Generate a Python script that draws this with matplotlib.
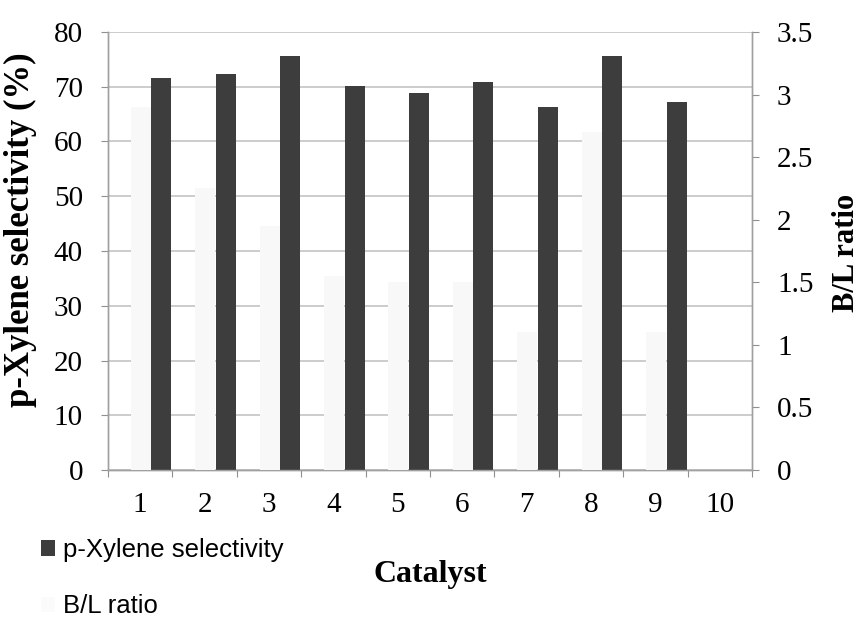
import numpy as np
import matplotlib
matplotlib.use('Agg')
import matplotlib.pyplot as plt
from matplotlib.patches import Patch

catalysts = [1, 2, 3, 4, 5, 6, 7, 8, 9, 10]
selectivity = [71.6, 72.3, 75.6, 70.1, 68.9, 70.9, 66.3, 75.6, 67.2, 0]
bl_ratio = [2.9, 2.25, 1.95, 1.55, 1.5, 1.5, 1.1, 2.7, 1.1, 0]

dark = '#3d3d3d'
faint = '#f8f8f8'
grid_c = '#c4c4c4'
serif = ['Liberation Serif', 'DejaVu Serif']
sans = ['Liberation Sans', 'DejaVu Sans']

fig = plt.figure(figsize=(8.61, 6.36), dpi=100)
ax = fig.add_axes([0.1254, 0.261, 0.748, 0.6887])
ax2 = ax.twinx()

x = np.array(catalysts)
ax.bar(x + 0.33, selectivity, width=0.31, color=dark, zorder=3)
ax2.bar(x + 0.01, bl_ratio, width=0.31, color=faint, zorder=3)

ax.set_xlim(0.5, 10.5)
ax.set_ylim(0, 80)
ax2.set_ylim(0, 3.5)
ax.set_yticks(np.arange(0, 81, 10))
ax2.set_yticks(np.arange(0, 3.51, 0.5))
ax2.set_yticklabels(['0', '0.5', '1', '1.5', '2', '2.5', '3', '3.5'])

# category boundaries carry the tick marks, labels sit at the centres
ax.set_xticks(np.arange(0.5, 10.6, 1.0))
ax.set_xticklabels([])
ax.set_xticks(x, minor=True)
ax.set_xticklabels([str(c) for c in catalysts], minor=True, fontfamily=serif, fontsize=21)
ax.tick_params(axis='x', which='major', length=5, color='#909090', direction='out')
ax.tick_params(axis='x', which='minor', length=0, pad=16)

ax.tick_params(axis='y', length=5, color='#909090', pad=13, labelsize=21)
ax2.tick_params(axis='y', length=5, color='#909090', pad=13, labelsize=21)
for lab in ax.get_yticklabels() + ax2.get_yticklabels():
    lab.set_fontfamily(serif)

ax.yaxis.grid(True, color=grid_c, linewidth=1.2)
ax.set_axisbelow(True)
for a in (ax, ax2):
    a.spines['top'].set_visible(False)
    for s in ('left', 'right', 'bottom'):
        a.spines[s].set_color('#a0a0a0')
        a.spines[s].set_linewidth(1.0)

ax.set_ylabel('p-Xylene selectivity (%)', fontfamily=serif, fontweight='bold', fontsize=25)
ax.yaxis.set_label_coords(-0.110, 0.548)
ax2.set_ylabel('B/L ratio', fontfamily=serif, fontweight='bold', fontsize=22, rotation=90)
ax2.yaxis.set_label_coords(1.124, 0.495)
ax.set_xlabel('Catalyst', fontfamily=serif, fontweight='bold', fontsize=23, labelpad=30)

handles = [Patch(facecolor=dark, edgecolor='none'),
           Patch(facecolor='#fbfbfb', edgecolor='none')]
fig.legend(handles, ['p-Xylene selectivity', 'B/L ratio'], loc='upper left',
           bbox_to_anchor=(0.021, 0.19), frameon=False, handlelength=0.55,
           handleheight=0.55, handletextpad=0.3, labelspacing=1.25,
           prop={'family': sans, 'size': 18.5})

fig.savefig('out.png', dpi=100)
